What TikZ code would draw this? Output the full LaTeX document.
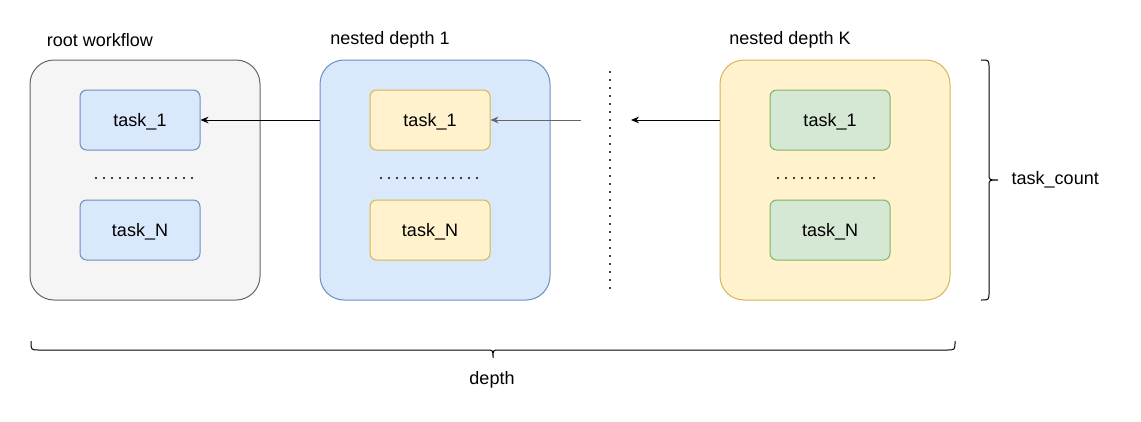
\documentclass[tikz,border=0pt]{standalone}
\usepackage{fontspec}
\setmainfont{Liberation Sans}
\usetikzlibrary{arrows.meta}

\definecolor{rootfill}{HTML}{F5F5F5}
\definecolor{rootline}{HTML}{666666}
\definecolor{bluefill}{HTML}{DAE8FC}
\definecolor{blueline}{HTML}{6C8EBF}
\definecolor{yellowfill}{HTML}{FFF2CC}
\definecolor{yellowline}{HTML}{D6B656}
\definecolor{greenfill}{HTML}{D5E8D4}
\definecolor{greenline}{HTML}{82B366}

\begin{document}
\begin{tikzpicture}[x=0.75pt, y=-0.75pt, font=\fontsize{13.5pt}{16pt}\selectfont]

    \tikzset{workflow/.style={%
      draw,%
      rectangle,%
      rounded corners=18pt,%
      minimum width=172.5pt,%
      minimum height=180pt,%
      line width=0.75pt}%
    };

    \tikzset{task/.style={workflow, rounded corners=5pt, minimum width=90pt, minimum height=45pt, text depth=0pt}};
    \tikzset{arr/.style={-{Stealth[length=6pt,width=5pt]}, line width=0.75pt}};
    \tikzset{dots/.style={line width=1.6pt, line cap=round, dash pattern=on 0pt off 6pt}};
    \tikzset{bracket/.style={line width=0.75pt}};

    \useasboundingbox (0,0) rectangle (1141,421);

    %%%%%%%%%%%%%%%
    %  workflows  %
    %%%%%%%%%%%%%%%
    \node [workflow, fill=rootfill, draw=rootline] (root) at (145,180) {};
    \node [workflow, fill=bluefill, draw=blueline] (depth1) at (435,180) {};
    \node [workflow, fill=yellowfill, draw=yellowline] (depthK) at (835,180) {};

    \node (rootlabel) at (100,40) {root workflow};
    \node (depth1label) at (390,40) {nested depth 1};
    \node (depthKlabel) at (790,40) {nested depth K};

    %%%%%%%%%%%%%%%
    %    tasks    %
    %%%%%%%%%%%%%%%
    \node [task, fill=bluefill, draw=blueline] (root1) at (140,120) {task\_1};
    \node [task, fill=bluefill, draw=blueline] (rootN) at (140,230) {task\_N};
    \node [task, fill=yellowfill, draw=yellowline] (depth11) at (430,120) {task\_1};
    \node [task, fill=yellowfill, draw=yellowline] (depth1N) at (430,230) {task\_N};
    \node [task, fill=greenfill, draw=greenline] (depthK1) at (830,120) {task\_1};
    \node [task, fill=greenfill, draw=greenline] (depthKN) at (830,230) {task\_N};

    \draw [dots] (96,178) -- (194,178);
    \draw [dots] (381,178) -- (479,178);
    \draw [dots] (778,178) -- (876,178);
    \draw [dots] (610,72) -- (610,290);

    %%%%%%%%%%%%%%%
    %   arrows    %
    %%%%%%%%%%%%%%%
    \coordinate (gapleft) at (581,120);
    \coordinate (gapright) at (631,120);

    \draw [arr] (depth1.west |- root1) -- (root1.east);
    \draw [arr, draw=black!60] (gapleft) -- (depth11.east);
    \draw [arr] (depthK.west |- depthK1) -- (gapright);

    %%%%%%%%%%%%%%%
    %   braces    %
    %%%%%%%%%%%%%%%
    \draw [bracket] (981,60) .. controls (989,60) .. (989,68) -- (989,174)
      .. controls (989,180) .. (998,180) .. controls (989,180) .. (989,186)
      -- (989,292) .. controls (989,300) .. (981,300);
    \draw [bracket] (31,341) .. controls (31,350) .. (39,350) -- (487,350)
      .. controls (493,350) .. (493,358) .. controls (493,350) .. (499,350)
      -- (947,350) .. controls (955,350) .. (955,341);

    \node [anchor=west] (count) at (1007,180) {task\_count};
    \node (depth) at (492,380) {depth};

  \end{tikzpicture}
\end{document}
